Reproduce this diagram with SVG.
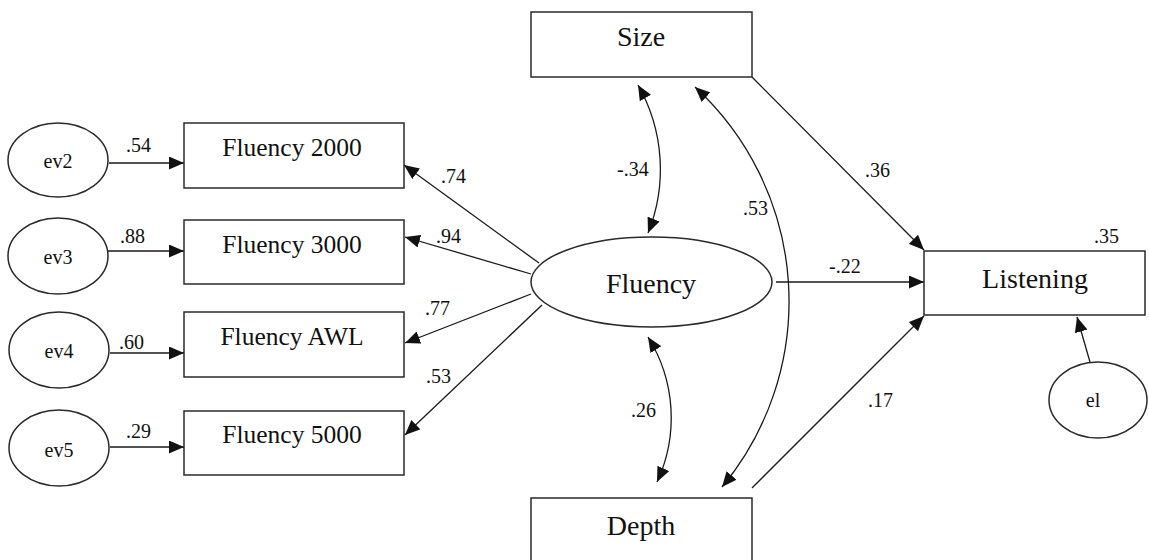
<svg xmlns="http://www.w3.org/2000/svg" width="1149" height="560" viewBox="0 0 1149 560">
<style>
  .node { fill: #ffffff; stroke: #2a2a2a; stroke-width: 1.5; }
  .edge { fill: none; stroke: #1a1a1a; stroke-width: 1.3; }
  text { font-family: 'Liberation Serif', 'DejaVu Serif', 'Times New Roman', Times, serif; fill: #111; }
  .big { font-size: 28px; text-anchor: middle; }
  .mid { font-size: 25.5px; text-anchor: middle; }
  .sm { font-size: 20px; text-anchor: middle; }
  .lbl { font-size: 20px; }
</style>
<defs>
  <marker id="ah" viewBox="0 0 15 13" refX="15" refY="6.5" markerWidth="15" markerHeight="13" markerUnits="userSpaceOnUse" orient="auto-start-reverse">
    <path d="M0,0 L15,6.5 L0,13 z" fill="#111"/>
  </marker>
</defs>
<rect width="1149" height="560" fill="#ffffff"/>

<g id="connectors">
  <path class="edge" d="M109,163 H184" marker-end="url(#ah)"/>
  <path class="edge" d="M108,251 H184" marker-end="url(#ah)"/>
  <path class="edge" d="M110,353 H184" marker-end="url(#ah)"/>
  <path class="edge" d="M110,447 H184" marker-end="url(#ah)"/>
  <path class="edge" d="M539,263 L404,165" marker-end="url(#ah)"/>
  <path class="edge" d="M531,274 L405,237" marker-end="url(#ah)"/>
  <path class="edge" d="M531,294 L405,343" marker-end="url(#ah)"/>
  <path class="edge" d="M542,305 L405,435" marker-end="url(#ah)"/>
  <path class="edge" d="M752,77 L924,250" marker-end="url(#ah)"/>
  <path class="edge" d="M776,282 H924" marker-end="url(#ah)"/>
  <path class="edge" d="M752,488 L924,316" marker-end="url(#ah)"/>
  <path class="edge" d="M1090,362 L1077,317" marker-end="url(#ah)"/>
  <path class="edge" d="M638,85 A170,170 0 0 1 648,233" marker-start="url(#ah)" marker-end="url(#ah)"/>
  <path class="edge" d="M648,337 A152,152 0 0 1 657,482" marker-start="url(#ah)" marker-end="url(#ah)"/>
  <path class="edge" d="M695,87 A291,291 0 0 1 722,487" marker-start="url(#ah)" marker-end="url(#ah)"/>
  <text class="lbl" x="126" y="152">.54</text>
  <text class="lbl" x="120" y="243">.88</text>
  <text class="lbl" x="119" y="349">.60</text>
  <text class="lbl" x="126" y="438">.29</text>
  <text class="lbl" x="441" y="183">.74</text>
  <text class="lbl" x="436" y="243">.94</text>
  <text class="lbl" x="425" y="315">.77</text>
  <text class="lbl" x="426" y="383">.53</text>
  <text class="lbl" x="617" y="176">-.34</text>
  <text class="lbl" x="743" y="215">.53</text>
  <text class="lbl" x="631" y="417">.26</text>
  <text class="lbl" x="865" y="177">.36</text>
  <text class="lbl" x="1094" y="243">.35</text>
  <text class="lbl" x="829" y="273">-.22</text>
  <text class="lbl" x="868" y="407">.17</text>
</g>

<g id="ev2"><ellipse class="node" cx="58" cy="160" rx="50" ry="37"/><text class="sm" x="58" y="168">ev2</text></g>
<g id="ev3"><ellipse class="node" cx="58" cy="256" rx="50" ry="38"/><text class="sm" x="58" y="264">ev3</text></g>
<g id="ev4"><ellipse class="node" cx="59" cy="350" rx="50" ry="38"/><text class="sm" x="59" y="358">ev4</text></g>
<g id="ev5"><ellipse class="node" cx="59" cy="448" rx="50" ry="38"/><text class="sm" x="59" y="457">ev5</text></g>

<g id="fluency2000"><rect class="node" x="184" y="123" width="220" height="65"/><text class="mid" x="292" y="156">Fluency 2000</text></g>
<g id="fluency3000"><rect class="node" x="184" y="220" width="220" height="64"/><text class="mid" x="292" y="253">Fluency 3000</text></g>
<g id="fluencyAWL"><rect class="node" x="184" y="312" width="220" height="65"/><text class="mid" x="292" y="345">Fluency AWL</text></g>
<g id="fluency5000"><rect class="node" x="184" y="411" width="220" height="64"/><text class="mid" x="292" y="443">Fluency 5000</text></g>

<g id="size"><rect class="node" x="531" y="12" width="221" height="65"/><text class="big" x="641" y="46">Size</text></g>
<g id="fluency"><ellipse class="node" cx="651.5" cy="282" rx="120.5" ry="45"/><text class="big" x="651" y="293">Fluency</text></g>
<g id="depth"><rect class="node" x="531" y="498" width="221" height="66"/><text class="big" x="641" y="535">Depth</text></g>
<g id="listening"><rect class="node" x="924" y="251" width="221" height="64"/><text class="big" x="1035" y="288">Listening</text></g>
<g id="el"><ellipse class="node" cx="1098" cy="400" rx="49" ry="38"/><text class="sm" x="1093" y="407">el</text></g>
</svg>
